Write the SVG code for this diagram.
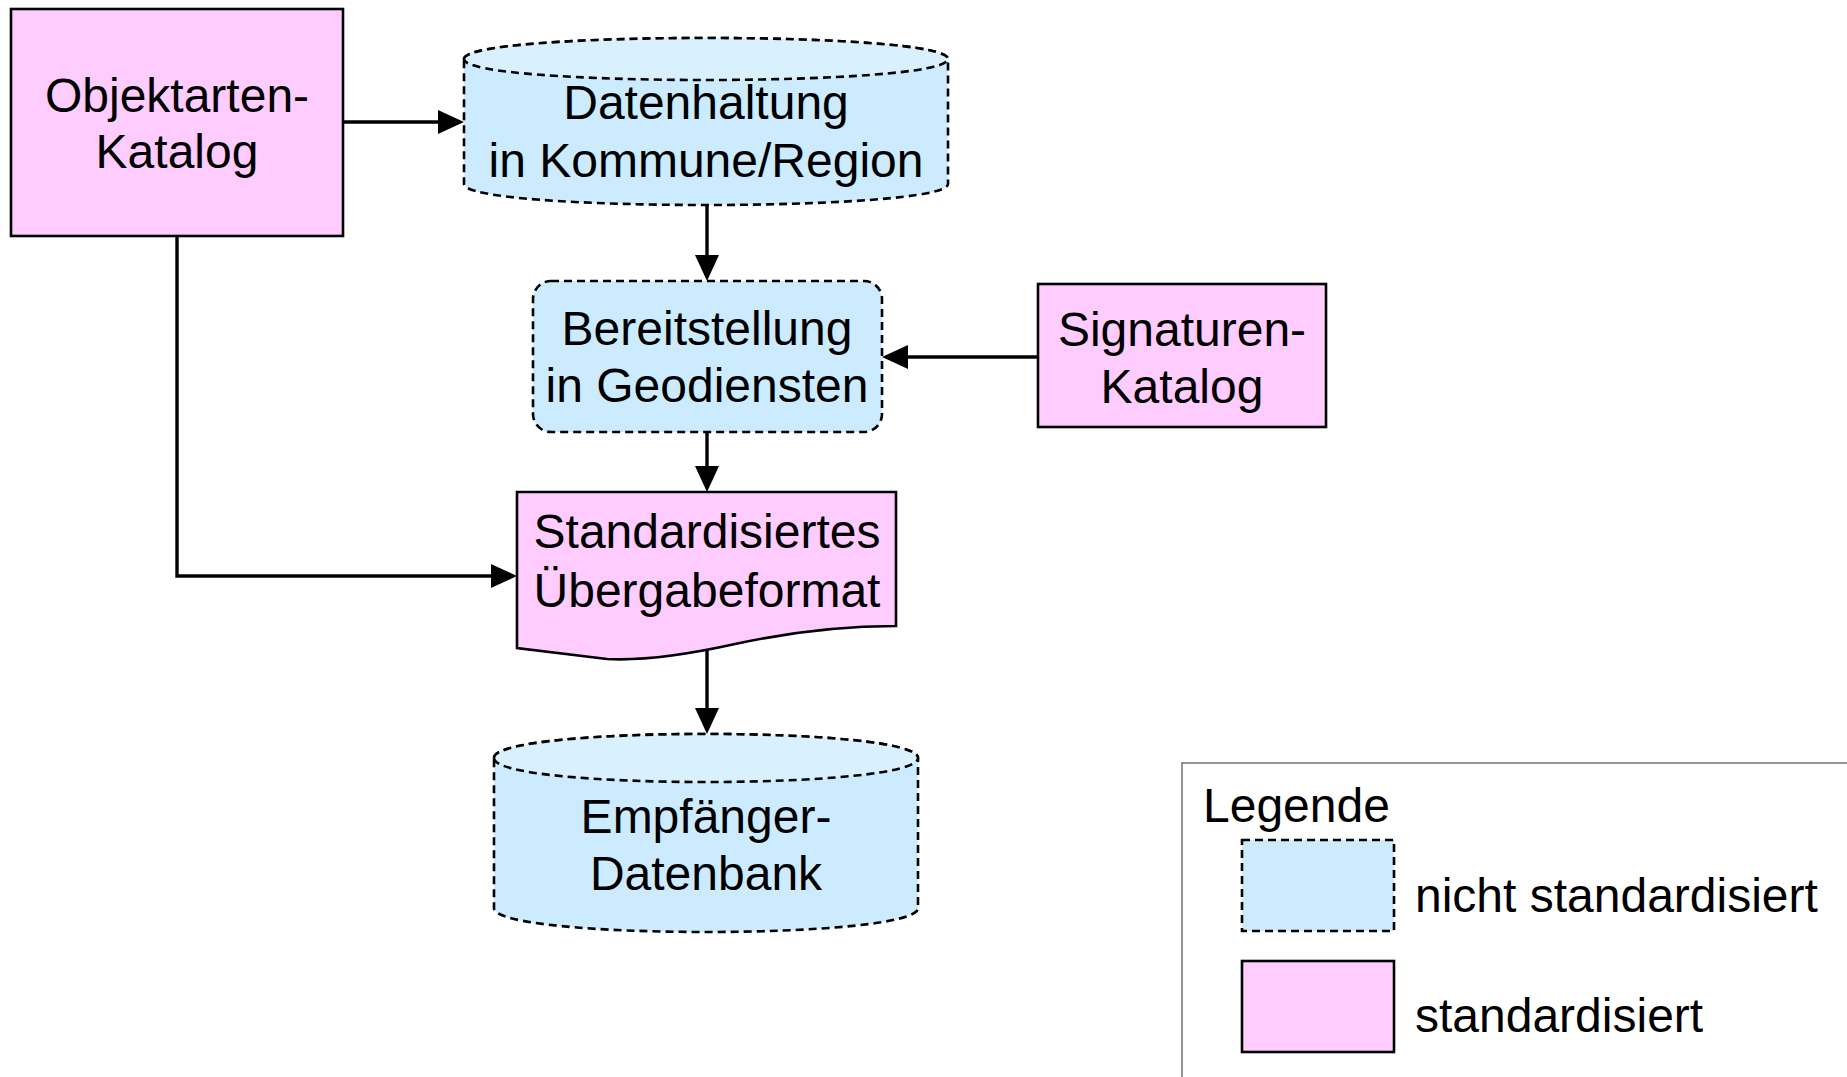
<svg xmlns="http://www.w3.org/2000/svg" width="1847" height="1077" viewBox="0 0 1847 1077">
  <defs>
    <style>
      .std { fill: #FFCCFF; stroke: #000; stroke-width: 2.6; }
      .nstd { fill: #CCEBFF; stroke: #000; stroke-width: 2.6; stroke-dasharray: 8 5; }
      .cap { fill: #D9F0FF; stroke: #000; stroke-width: 2.6; stroke-dasharray: 8 5; }
      .lbl { font-family: "Liberation Sans", Arial, sans-serif; font-size: 48px; fill: #000; text-anchor: middle; }
      .leg { font-family: "Liberation Sans", Arial, sans-serif; font-size: 48px; fill: #000; }
      .conn { fill: none; stroke: #000; stroke-width: 3.4; marker-end: url(#arrow); }
    </style>
    <marker id="arrow" markerUnits="userSpaceOnUse" markerWidth="26" markerHeight="24" viewBox="0 0 26 24" refX="22" refY="12" orient="auto">
      <path d="M0,0 L26,12 L0,24 Z" fill="#000"/>
    </marker>
  </defs>

  <g id="connectors">
    <path class="conn" d="M343,122 H460"/>
    <path class="conn" d="M707,205 V277"/>
    <path class="conn" d="M1038,357 H886"/>
    <path class="conn" d="M707,432 V488"/>
    <path class="conn" d="M177,236 V576 H513"/>
    <path class="conn" d="M707,650 V730"/>
  </g>

  <g id="objektarten">
    <rect class="std" x="11" y="9" width="332" height="227"/>
    <text class="lbl" x="177" y="112">Objektarten-</text>
    <text class="lbl" x="177" y="168">Katalog</text>
  </g>

  <g id="datenhaltung">
    <path class="nstd" d="M464,59 C464,31 948,31 948,59 L948,184 C948,212 464,212 464,184 Z"/>
    <path class="cap" d="M464,59 C464,31 948,31 948,59 C948,87 464,87 464,59 Z"/>
    <text class="lbl" x="706" y="119">Datenhaltung</text>
    <text class="lbl" x="706" y="177">in Kommune/Region</text>
  </g>

  <g id="bereitstellung">
    <rect class="nstd" x="533" y="281" width="349" height="151" rx="18" ry="18"/>
    <text class="lbl" x="707" y="345">Bereitstellung</text>
    <text class="lbl" x="707" y="402">in Geodiensten</text>
  </g>

  <g id="signaturen">
    <rect class="std" x="1038" y="284" width="288" height="143"/>
    <text class="lbl" x="1182" y="346">Signaturen-</text>
    <text class="lbl" x="1182" y="403">Katalog</text>
  </g>

  <g id="uebergabeformat">
    <path class="std" d="M517,492 H896 V626 C840,626 790,632 735,644 C690,654 645,661 607,659 L517,648 Z"/>
    <text class="lbl" x="707" y="548">Standardisiertes</text>
    <text class="lbl" x="707" y="607">Übergabeformat</text>
  </g>

  <g id="empfaenger">
    <path class="nstd" d="M494,758 C494,726 918,726 918,758 L918,908 C918,940 494,940 494,908 Z"/>
    <path class="cap" d="M494,758 C494,726 918,726 918,758 C918,790 494,790 494,758 Z"/>
    <text class="lbl" x="706" y="833">Empfänger-</text>
    <text class="lbl" x="706" y="890">Datenbank</text>
  </g>

  <g id="legende">
    <path d="M1182,1077 V763 H1847" fill="none" stroke="#707070" stroke-width="1.5"/>
    <text class="leg" x="1203" y="822">Legende</text>
    <rect class="nstd" x="1242" y="840" width="152" height="91"/>
    <text class="leg" x="1415" y="912">nicht standardisiert</text>
    <rect class="std" x="1242" y="961" width="152" height="91"/>
    <text class="leg" x="1415" y="1032">standardisiert</text>
  </g>
</svg>
